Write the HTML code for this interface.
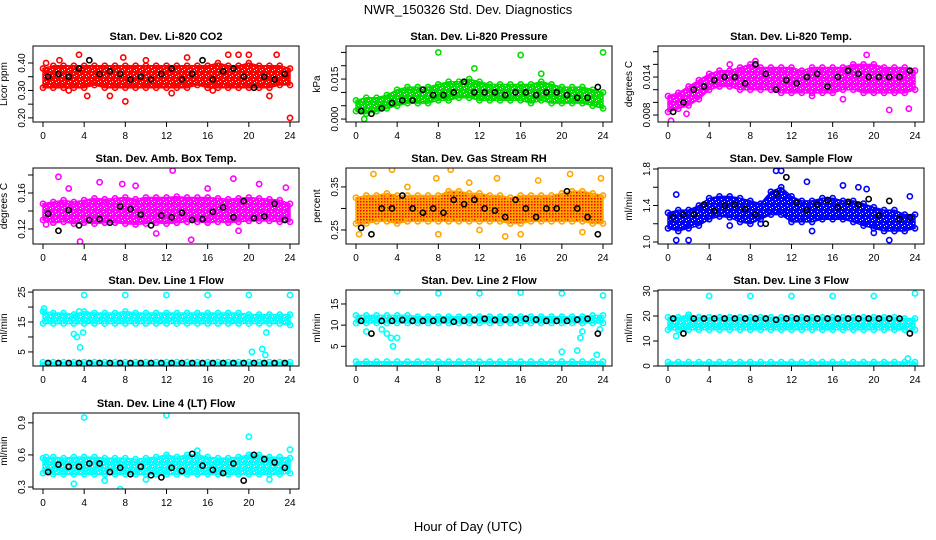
<!DOCTYPE html>
<html><head><meta charset="utf-8"><style>
body{margin:0;background:#fff;}
svg{display:block;font-family:"Liberation Sans",sans-serif;}
</style></head><body>
<svg id="c" width="936" height="540" viewBox="0 0 936 540">
<defs id="defs">
<pattern id="rhpat" width="3" height="3" patternUnits="userSpaceOnUse"><rect width="3" height="3" fill="#ffa500"/><rect width="1.5" height="1.5" fill="#ff0000"/></pattern>
</defs>
<rect width="936" height="540" fill="#fff"/>
<text x="468" y="14" font-size="13" text-anchor="middle">NWR_150326  Std. Dev. Diagnostics</text>
<text x="468" y="531" font-size="13" text-anchor="middle">Hour of Day (UTC)</text>
</svg>
<script>
const hours=[0,1,2,3,4,5,6,7,8,9,10,11,12,13,14,15,16,17,18,19,20,21,22,23,24];
const xTicks=[0,4,8,12,16,20,24];
// P1 CO2
const lo1=[0.31,0.31,0.31,0.31,0.31,0.32,0.31,0.31,0.31,0.31,0.31,0.31,0.31,0.31,0.31,0.32,0.31,0.31,0.31,0.31,0.31,0.31,0.31,0.32,0.32];
const hi1=[0.38,0.39,0.39,0.39,0.39,0.39,0.39,0.39,0.39,0.39,0.39,0.39,0.39,0.39,0.39,0.39,0.39,0.40,0.39,0.39,0.40,0.39,0.39,0.39,0.38];
const blk1=[0.35,0.36,0.35,0.38,0.41,0.36,0.37,0.36,0.34,0.35,0.34,0.36,0.38,0.34,0.36,0.41,0.34,0.37,0.38,0.35,0.31,0.35,0.34,0.36];
const out1=[[0.3,0.40],[1.6,0.41],[3.5,0.43],[8,0.26],[6.5,0.28],[18,0.43],[19,0.43],[20,0.43],[22.7,0.43],[24,0.20],[22,0.28],[4.3,0.28],[7.8,0.42],[2.5,0.30],[10,0.41],[14,0.42],[16.5,0.30],[12.5,0.29]];
// P2 pressure
const lo2=[0.003,0.002,0.003,0.004,0.005,0.006,0.006,0.006,0.007,0.007,0.008,0.008,0.007,0.007,0.007,0.007,0.007,0.006,0.007,0.006,0.006,0.006,0.006,0.005,0.004];
const hi2=[0.007,0.008,0.008,0.009,0.011,0.012,0.012,0.012,0.013,0.014,0.014,0.015,0.014,0.013,0.013,0.013,0.013,0.013,0.014,0.013,0.012,0.012,0.012,0.011,0.010];
const blk2=[0.003,0.002,0.004,0.006,0.007,0.007,0.011,0.009,0.009,0.010,0.014,0.010,0.010,0.010,0.009,0.010,0.010,0.009,0.010,0.010,0.009,0.008,0.008,0.012];
const out2=[[8,0.025],[16,0.024],[24,0.025],[11.5,0.019],[0.8,0.000],[18,0.017]];
// P3 Li-820 temp
const lo3=[0.0085,0.0090,0.0095,0.0105,0.0120,0.0125,0.0125,0.0120,0.0120,0.0120,0.0120,0.0115,0.0115,0.0115,0.0115,0.0115,0.0115,0.0120,0.0120,0.0115,0.0115,0.0115,0.0115,0.0115,0.0120];
const hi3=[0.0110,0.0115,0.0125,0.0135,0.0145,0.0150,0.0150,0.0155,0.0160,0.0155,0.0155,0.0155,0.0155,0.0150,0.0155,0.0155,0.0155,0.0155,0.0160,0.0160,0.0160,0.0155,0.0155,0.0155,0.0150];
const blk3=[0.0085,0.0100,0.0120,0.0125,0.0135,0.0140,0.0140,0.0130,0.0160,0.0145,0.0120,0.0135,0.0130,0.0140,0.0145,0.0125,0.0140,0.0150,0.0145,0.0140,0.0140,0.0140,0.0140,0.0150];
const out3=[[0.3,0.0071],[1.8,0.0082],[6,0.0160],[19.3,0.0175],[21.5,0.0088],[23.4,0.0090],[8.5,0.0165],[14,0.0110],[17,0.0105]];
// P4 amb box temp
const lo4=[0.130,0.127,0.128,0.126,0.127,0.126,0.127,0.127,0.126,0.125,0.126,0.127,0.126,0.127,0.128,0.128,0.127,0.128,0.127,0.128,0.129,0.129,0.129,0.128,0.128];
const hi4=[0.148,0.150,0.152,0.150,0.152,0.154,0.153,0.154,0.155,0.153,0.155,0.155,0.155,0.156,0.155,0.155,0.155,0.154,0.153,0.154,0.155,0.154,0.153,0.152,0.148];
const blk4=[0.137,0.118,0.141,0.124,0.130,0.131,0.127,0.145,0.142,0.136,0.124,0.135,0.133,0.138,0.130,0.131,0.139,0.144,0.133,0.151,0.132,0.134,0.148,0.130];
const out4=[[1.5,0.178],[3.6,0.106],[5.5,0.172],[7.7,0.170],[12.6,0.185],[14.4,0.108],[18.5,0.176],[21,0.170],[23.6,0.166],[0.3,0.125],[2.5,0.165],[9,0.168],[11,0.115],[16,0.165],[19,0.118]];
// P5 RH
const lo5=[0.265,0.265,0.270,0.270,0.265,0.270,0.270,0.270,0.270,0.270,0.270,0.270,0.270,0.270,0.270,0.265,0.265,0.270,0.270,0.270,0.270,0.270,0.270,0.265,0.265];
const hi5=[0.325,0.330,0.330,0.335,0.330,0.330,0.330,0.330,0.330,0.340,0.340,0.335,0.335,0.330,0.330,0.325,0.330,0.330,0.330,0.330,0.335,0.340,0.340,0.335,0.330];
const blk5=[0.255,0.240,0.300,0.300,0.330,0.300,0.290,0.300,0.290,0.320,0.310,0.320,0.300,0.295,0.280,0.320,0.300,0.280,0.300,0.300,0.340,0.300,0.280,0.240];
const out5=[[1.7,0.38],[3.5,0.39],[7.8,0.37],[9.2,0.39],[11,0.36],[13.7,0.37],[17.7,0.365],[20.8,0.38],[23.8,0.37],[0.3,0.24],[8,0.24],[14.5,0.235],[5,0.35],[12,0.25],[16,0.24],[22,0.245]];
// P6 sample flow
const lo6=[1.15,1.12,1.15,1.18,1.25,1.28,1.27,1.22,1.20,1.25,1.30,1.30,1.22,1.22,1.22,1.25,1.25,1.25,1.22,1.18,1.15,1.12,1.12,1.12,1.15];
const hi6=[1.32,1.35,1.35,1.40,1.48,1.50,1.50,1.48,1.45,1.42,1.55,1.60,1.50,1.45,1.45,1.48,1.48,1.45,1.45,1.42,1.38,1.35,1.35,1.30,1.30];
const blk6=[1.27,1.30,1.30,1.41,1.34,1.40,1.41,1.36,1.30,1.20,1.53,1.71,1.43,1.35,1.41,1.46,1.38,1.44,1.41,1.47,1.29,1.45,1.25,1.27];
const out6=[[0.8,1.52],[0.8,1.02],[2,1.02],[10.5,1.78],[11,1.78],[13.5,1.66],[17,1.62],[18.5,1.6],[19.3,1.58],[23.5,1.5],[21.5,1.02],[6,1.18],[9,1.2],[14,1.12],[20,1.1]];
// P7 line 1
const lo7=[14.5,14.5,14.5,14.5,14.5,14.5,14.5,14.5,14.5,14.5,14.5,14.5,14.5,14.5,14.5,14.5,14.5,14.5,14.5,14.5,14.5,14.5,14.5,14.5,14.0];
const hi7=[18.5,18.0,18.0,17.5,18.5,18.0,18.0,18.0,18.5,18.0,18.0,18.0,18.0,18.0,18.0,18.0,18.0,18.0,18.0,18.0,17.5,17.5,17.5,17.5,17.5];
const lo7b=[0.5,0.5,0.5,0.5,0.5,0.5,0.5,0.5,0.5,0.5,0.5,0.5,0.5,0.5,0.5,0.5,0.5,0.5,0.5,0.5,0.5,0.5,0.5,0.5,0.5];
const hi7b=[1.6,1.6,1.6,1.6,1.6,1.6,1.6,1.6,1.6,1.6,1.6,1.6,1.6,1.6,1.6,1.6,1.6,1.6,1.6,1.6,1.6,1.6,1.6,1.6,1.6];
const blk7=[1.3,1.3,1.3,1.3,1.3,1.3,1.3,1.3,1.3,1.3,1.3,1.3,1.3,1.3,1.3,1.3,1.3,1.3,1.3,1.3,1.3,1.3,1.3,1.3];
const out7=[[4,24],[8,24],[12,24],[16,24],[20,24],[24,24],[3,11],[3.3,10],[3.6,6.5],[3.9,11.5],[20.3,5],[21.3,6],[21.6,4],[21.7,11.5],[3.5,18.5],[0.1,19.5]];
// P8 line 2
const lo8=[10.5,10.5,10.5,10.5,10.5,10.5,10.5,10.5,10.5,10.5,10.5,10.5,10.5,10.5,10.5,10.5,10.5,10.5,10.5,10.5,10.5,10.5,10.5,10.5,10.5];
const hi8=[12.3,12.3,12.3,12.3,12.3,12.3,12.0,12.0,12.0,12.0,12.0,12.0,12.0,12.0,12.0,12.0,12.0,12.0,12.0,12.0,12.0,12.0,12.0,12.3,12.3];
const lo8b=[0.2,0.2,0.2,0.2,0.2,0.2,0.2,0.2,0.2,0.2,0.2,0.2,0.2,0.2,0.2,0.2,0.2,0.2,0.2,0.2,0.2,0.2,0.2,0.2,0.2];
const hi8b=[1.4,1.4,1.4,1.4,1.4,1.4,1.4,1.4,1.4,1.4,1.4,1.4,1.4,1.4,1.4,1.4,1.4,1.4,1.4,1.4,1.4,1.4,1.4,1.4,1.4];
const blk8=[11.0,8.0,11.0,11.0,11.2,11.0,11.0,11.0,11.2,10.8,11.0,11.2,11.5,11.2,11.3,11.3,11.5,11.3,11.0,11.0,11.0,11.3,11.5,8.0];
const out8=[[4,18],[8,17.5],[12,17.5],[16,17.7],[20,17.5],[24,17],[1,8.5],[2.5,9],[3,8],[3.4,7],[3.6,5],[4,7],[20,3.7],[21.5,4],[21.8,7],[22,8.5],[23.4,3],[23.7,9]];
// P9 line 3
const lo9=[14.5,14.5,14.5,14.5,14.5,14.5,14.5,14.5,14.5,14.5,14.5,14.5,14.5,14.5,14.5,14.5,14.5,14.5,14.5,14.5,14.5,14.5,14.5,14.5,14.5];
const hi9=[19.5,19.5,20.5,19.5,19.5,19.5,19.5,19.5,19.5,19.5,19.5,19.5,19.5,19.5,19.5,19.5,19.5,19.5,19.5,19.5,19.5,19.5,19.5,19.0,19.0];
const lo9b=[0.2,0.2,0.2,0.2,0.2,0.2,0.2,0.2,0.2,0.2,0.2,0.2,0.2,0.2,0.2,0.2,0.2,0.2,0.2,0.2,0.2,0.2,0.2,0.2,0.2];
const hi9b=[1.6,1.6,1.6,1.6,1.6,1.6,1.6,1.6,1.6,1.6,1.6,1.6,1.6,1.6,1.6,1.6,1.6,1.6,1.6,1.6,1.6,1.6,1.6,1.6,1.6];
const blk9=[19.0,13.0,19.0,19.0,19.0,19.0,19.0,19.0,19.0,19.0,18.5,19.0,19.0,19.0,19.0,19.0,19.0,19.0,19.0,19.0,19.0,19.0,19.0,13.0];
const out9=[[4,28],[8,28],[12,28],[16,28],[20,28],[24,29],[2,20.5],[0.8,12],[23.3,3]];
// P10 line 4
const lo10=[0.43,0.42,0.42,0.42,0.42,0.42,0.42,0.42,0.42,0.42,0.42,0.42,0.42,0.42,0.42,0.42,0.42,0.42,0.42,0.42,0.42,0.42,0.42,0.42,0.43];
const hi10=[0.57,0.58,0.57,0.58,0.58,0.58,0.57,0.57,0.57,0.56,0.57,0.58,0.60,0.58,0.60,0.60,0.58,0.57,0.57,0.58,0.60,0.60,0.58,0.58,0.57];
const blk10=[0.44,0.51,0.49,0.49,0.52,0.52,0.44,0.48,0.42,0.49,0.41,0.39,0.48,0.45,0.61,0.50,0.46,0.43,0.52,0.36,0.60,0.56,0.53,0.48];
const out10=[[4,0.95],[12,0.97],[20,0.77],[7.5,0.28],[3,0.33],[0.3,0.58],[24,0.65],[6,0.36],[10,0.37],[15,0.64],[22,0.37]];

const NS="http://www.w3.org/2000/svg";
const svg=document.getElementById('c');
const defs=document.getElementById('defs');
function el(tag,attrs,parent){const e=document.createElementNS(NS,tag);for(const k in attrs)e.setAttribute(k,attrs[k]);(parent||svg).appendChild(e);return e;}
function texPat(id,col){
  const p=el('pattern',{id:id,width:6,height:6,patternUnits:'userSpaceOnUse'},defs);
  el('rect',{width:6,height:6,fill:col},p);
  el('rect',{x:1,y:1,width:1,height:1,fill:'#fff'},p);
  el('rect',{x:4,y:3,width:1,height:1,fill:'#fff'},p);
  el('rect',{x:2,y:4,width:1,height:1,fill:'#fff'},p);
  return 'url(#'+id+')';
}

const colL=[33,346,658], rowT=[46,168,290,413], W=266, H=76;
const panels=[
 {t:"Stan. Dev. Li-820 CO2",yl:"Licor ppm",col:"#ff0000",ylim:[0.185,0.462],ticks:[0.20,0.25,0.30,0.35,0.40],labs:[0.20,0.30,0.40],dec:2,bands:[[lo1,hi1]],blk:blk1,out:out1},
 {t:"Stan. Dev. Li-820 Pressure",yl:"kPa",col:"#00dd00",ylim:[-0.0011,0.0274],ticks:[0,0.005,0.010,0.015,0.020,0.025],labs:[0,0.015],dec:3,bands:[[lo2,hi2]],blk:blk2,out:out2},
 {t:"Stan. Dev. Li-820 Temp.",yl:"degrees C",col:"#ff00ff",ylim:[0.0069,0.0189],ticks:[0.008,0.010,0.012,0.014,0.016,0.018],labs:[0.008,0.014],dec:3,bands:[[lo3,hi3]],blk:blk3,out:out3},
 {t:"Stan. Dev. Amb. Box Temp.",yl:"degrees C",col:"#ff00ff",ylim:[0.1033,0.1878],ticks:[0.12,0.14,0.16,0.18],labs:[0.12,0.16],dec:2,bands:[[lo4,hi4]],blk:blk4,out:out4},
 {t:"Stan. Dev. Gas Stream RH",yl:"percent",col:"#ffa500",fill:"url(#rhpat)",ylim:[0.2174,0.394],ticks:[0.25,0.30,0.35],labs:[0.25,0.35],dec:2,bands:[[lo5,hi5]],blk:blk5,out:out5},
 {t:"Stan. Dev. Sample Flow",yl:"ml/min",col:"#0000ff",ylim:[0.978,1.811],ticks:[1.0,1.2,1.4,1.6,1.8],labs:[1.0,1.4,1.8],dec:1,bands:[[lo6,hi6]],blk:blk6,out:out6},
 {t:"Stan. Dev. Line 1 Flow",yl:"ml/min",col:"#00ffff",ylim:[0.3,25.7],ticks:[5,10,15,20,25],labs:[5,15,25],dec:0,bands:[[lo7,hi7],[lo7b,hi7b]],blk:blk7,out:out7},
 {t:"Stan. Dev. Line 2 Flow",yl:"ml/min",col:"#00ffff",ylim:[0.35,18.3],ticks:[5,10,15],labs:[5,10,15],dec:0,bands:[[lo8,hi8],[lo8b,hi8b]],blk:blk8,out:out8},
 {t:"Stan. Dev. Line 3 Flow",yl:"ml/min",col:"#00ffff",ylim:[0,30.4],ticks:[0,10,20,30],labs:[0,10,20,30],dec:0,bands:[[lo9,hi9],[lo9b,hi9b]],blk:blk9,out:out9},
 {t:"Stan. Dev. Line 4 (LT) Flow",yl:"ml/min",col:"#00ffff",ylim:[0.2815,0.992],ticks:[0.3,0.6,0.9],labs:[0.3,0.6,0.9],dec:1,bands:[[lo10,hi10]],blk:blk10,out:out10}
];

panels.forEach((p,i)=>{
  const L=colL[i%3], T=rowT[Math.floor(i/3)];
  const fill=p.fill||texPat('tex'+i,p.col);
  const g=el('g',{});
  
  
  const xs=h=>L+10+h/24*(W-19);
  const ys=v=>T+H-(v-p.ylim[0])/(p.ylim[1]-p.ylim[0])*H;
  const cl=el('clipPath',{id:'cp'+i},g);
  el('rect',{x:L,y:T,width:W,height:H},cl);
  const pg=el('g',{'clip-path':'url(#cp'+i+')'},g);
  p.bands.forEach((b,bi)=>{
    let d='M'+hours.map((h,k)=>xs(h).toFixed(1)+','+ys(b[1][k]).toFixed(1)).join('L');
    d+='L'+hours.slice().reverse().map((h,k)=>xs(h).toFixed(1)+','+ys(b[0][24-k]).toFixed(1)).join('L')+'Z';
    const pa=el('path',{d:d,fill:fill,stroke:p.col,'stroke-width':1.5},pg);
    
    
    hours.forEach((h,k)=>{
      [b[0][k],b[1][k]].forEach(v=>{
        const c=el('circle',{cx:xs(h),cy:ys(v),r:2.6,fill:'none',stroke:p.col,'stroke-width':1.6},pg);
        
        
      });
    });
  });
  p.out.forEach(o=>{
    const c=el('circle',{cx:xs(o[0]),cy:ys(o[1]),r:2.6,fill:'none',stroke:p.col,'stroke-width':1.6},pg);
    
    
  });
  p.blk.forEach((v,k)=>{
    const c=el('circle',{cx:xs(k+0.5),cy:ys(v),r:2.6,fill:'none',stroke:'#000','stroke-width':1.6},pg);
    
    
  });
  const bx=el('rect',{x:L,y:T,width:W,height:H,fill:'none',stroke:'#000','stroke-width':1},g);
  
  
  const tt=el('text',{x:L+W/2,y:T-6,'font-size':11,'font-weight':'bold','text-anchor':'middle'},g);
  tt.textContent=p.t;
  
  
  el('line',{x1:xs(0),x2:xs(24),y1:T+H,y2:T+H,stroke:'#000'},g);
  xTicks.forEach(h=>{
    el('line',{x1:xs(h),x2:xs(h),y1:T+H,y2:T+H+5,stroke:'#000'},g);
    const tx=el('text',{x:xs(h),y:T+H+17,'font-size':10,'text-anchor':'middle'},g);
    tx.textContent=h;
    
    
  });
  el('line',{x1:L,x2:L,y1:ys(p.ticks[0]),y2:ys(p.ticks[p.ticks.length-1]),stroke:'#000'},g);
  p.ticks.forEach(v=>{
    if(ys(v)<T-1||ys(v)>T+H+1)return;
    el('line',{x1:L-5,x2:L,y1:ys(v),y2:ys(v),stroke:'#000'},g);
  });
  p.labs.forEach(v=>{
    const yy=ys(v), xx=L-8;
    const tx=el('text',{x:xx,y:yy,'font-size':10,'text-anchor':'middle',transform:'rotate(-90 '+xx+' '+yy+')'},g);
    tx.textContent=v.toFixed(p.dec);
    
    
  });
  const yx=L-26, yy=T+H/2;
  const yt=el('text',{x:yx,y:yy,'font-size':10,'text-anchor':'middle',transform:'rotate(-90 '+yx+' '+yy+')'},g);
  yt.textContent=p.yl;
  
  
});
</script>
</body></html>
